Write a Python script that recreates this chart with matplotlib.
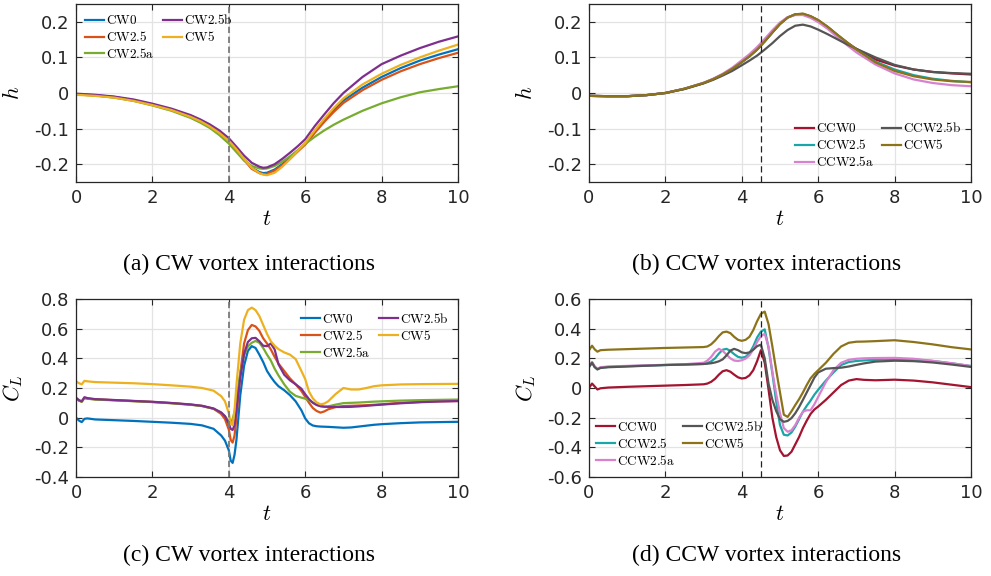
import matplotlib
matplotlib.use('Agg')
import matplotlib.pyplot as plt
from matplotlib.ticker import FuncFormatter

plt.rcParams['font.family'] = 'DejaVu Sans'
plt.rcParams['mathtext.fontset'] = 'cm'
plt.rcParams['axes.unicode_minus'] = False

# ---- plunge h(t) ----
t_h = [0, 0.5, 1, 1.5, 2, 2.5, 3, 3.25, 3.5, 3.75, 4, 4.2, 4.4, 4.6, 4.8, 4.9, 5, 5.2, 5.4, 5.6,
       5.8, 6, 6.25, 6.5, 6.75, 7, 7.5, 8, 8.5, 9, 9.5, 10]

h_cw0 = [-0.003, -0.006, -0.011, -0.02, -0.032, -0.046, -0.065, -0.077, -0.092, -0.11, -0.133, -0.158,
         -0.186, -0.21, -0.222, -0.225, -0.224, -0.215, -0.2, -0.182, -0.162, -0.142, -0.108, -0.076,
         -0.047, -0.021, 0.015, 0.045, 0.07, 0.091, 0.108, 0.123]
h_cw25 = [-0.004, -0.007, -0.012, -0.021, -0.033, -0.047, -0.066, -0.078, -0.093, -0.111, -0.134,
          -0.16, -0.188, -0.213, -0.225, -0.228, -0.227, -0.218, -0.203, -0.185, -0.165, -0.145,
          -0.112, -0.081, -0.053, -0.028, 0.008, 0.037, 0.061, 0.081, 0.098, 0.113]
h_cw25a = [-0.004, -0.007, -0.013, -0.022, -0.035, -0.05, -0.07, -0.083, -0.098, -0.118, -0.142,
           -0.166, -0.19, -0.205, -0.212, -0.213, -0.212, -0.205, -0.193, -0.178, -0.161, -0.143,
           -0.123, -0.105, -0.089, -0.075, -0.05, -0.029, -0.012, 0.002, 0.011, 0.019]
h_cw25b = [-0.002, -0.005, -0.01, -0.018, -0.03, -0.044, -0.062, -0.074, -0.088, -0.105, -0.127,
           -0.151, -0.176, -0.196, -0.207, -0.21, -0.209, -0.2, -0.185, -0.168, -0.15, -0.13, -0.093,
           -0.06, -0.028, 0.0, 0.045, 0.081, 0.105, 0.126, 0.144, 0.159]
h_cw5 = [-0.005, -0.008, -0.013, -0.022, -0.034, -0.048, -0.067, -0.079, -0.094, -0.112, -0.134,
         -0.158, -0.185, -0.21, -0.225, -0.229, -0.231, -0.224, -0.207, -0.186, -0.163, -0.14, -0.105,
         -0.072, -0.042, -0.015, 0.024, 0.054, 0.079, 0.1, 0.119, 0.136]

h_ccw0 = [-0.008, -0.009, -0.009, -0.006, 0.0, 0.012, 0.028, 0.039, 0.052, 0.068, 0.087, 0.103,
          0.122, 0.145, 0.17, 0.182, 0.194, 0.212, 0.221, 0.222, 0.215, 0.204, 0.185, 0.163, 0.142,
          0.124, 0.094, 0.077, 0.066, 0.059, 0.055, 0.052]
h_ccw25 = [-0.008, -0.009, -0.009, -0.006, 0.0, 0.012, 0.028, 0.039, 0.052, 0.068, 0.087, 0.103,
           0.122, 0.145, 0.17, 0.182, 0.194, 0.212, 0.221, 0.222, 0.215, 0.204, 0.185, 0.163, 0.142,
           0.122, 0.088, 0.066, 0.05, 0.04, 0.034, 0.03]
h_ccw25a = [-0.008, -0.009, -0.009, -0.006, 0.0, 0.012, 0.029, 0.04, 0.054, 0.071, 0.092, 0.109,
            0.129, 0.152, 0.176, 0.187, 0.198, 0.213, 0.219, 0.219, 0.211, 0.199, 0.18, 0.157, 0.135,
            0.114, 0.08, 0.055, 0.038, 0.028, 0.022, 0.019]
h_ccw25b = [-0.008, -0.009, -0.009, -0.006, 0.0, 0.011, 0.027, 0.037, 0.049, 0.062, 0.078, 0.091,
            0.105, 0.122, 0.14, 0.15, 0.16, 0.177, 0.189, 0.192, 0.187, 0.178, 0.165, 0.151, 0.137,
            0.124, 0.1, 0.079, 0.066, 0.059, 0.056, 0.054]
h_ccw5 = [-0.008, -0.009, -0.009, -0.006, 0.0, 0.012, 0.028, 0.039, 0.052, 0.068, 0.087, 0.103,
          0.122, 0.145, 0.17, 0.182, 0.194, 0.212, 0.221, 0.223, 0.216, 0.205, 0.186, 0.164, 0.143,
          0.122, 0.086, 0.062, 0.047, 0.038, 0.033, 0.031]

# ---- lift coefficient, CW cases ----
t_cw = [0, 0.08, 0.15, 0.22, 0.3, 0.5, 1, 1.5, 2, 2.5, 3, 3.3, 3.6, 3.8, 3.9, 4.0, 4.05, 4.1, 4.15,
        4.2, 4.3, 4.4, 4.5, 4.6, 4.7, 4.8, 4.9, 5.0, 5.1, 5.2, 5.3, 5.45, 5.6, 5.75, 5.9, 6.0, 6.1,
        6.2, 6.3, 6.4, 6.5, 6.6, 6.8, 7.0, 7.2, 7.4, 7.6, 7.8, 8, 8.5, 9, 9.5, 10]

cl_cw0 = [0.0, -0.02, -0.03, -0.008, -0.005, -0.012, -0.017, -0.022, -0.028, -0.034, -0.042, -0.052,
          -0.075, -0.12, -0.155, -0.22, -0.29, -0.305, -0.25, -0.15, 0.15, 0.35, 0.45, 0.482, 0.47,
          0.425, 0.375, 0.315, 0.275, 0.24, 0.212, 0.185, 0.152, 0.11, 0.05, -0.005, -0.038, -0.053,
          -0.058, -0.06, -0.061, -0.062, -0.065, -0.068, -0.066, -0.06, -0.054, -0.048, -0.044,
          -0.037, -0.032, -0.03, -0.028]
cl_cw25 = [0.13, 0.115, 0.108, 0.132, 0.128, 0.124, 0.118, 0.112, 0.106, 0.098, 0.088, 0.079, 0.06,
           0.025, -0.01, -0.08, -0.15, -0.168, -0.12, 0.0, 0.3, 0.5, 0.59, 0.625, 0.615, 0.585, 0.535,
           0.5, 0.46, 0.41, 0.365, 0.315, 0.265, 0.225, 0.18, 0.14, 0.1, 0.065, 0.045, 0.034, 0.042,
           0.056, 0.072, 0.078, 0.08, 0.082, 0.084, 0.087, 0.09, 0.1, 0.106, 0.11, 0.112]
cl_cw25a = [0.13, 0.114, 0.107, 0.133, 0.128, 0.122, 0.117, 0.111, 0.105, 0.097, 0.087, 0.078, 0.06,
            0.035, 0.01, -0.025, -0.03, -0.01, 0.04, 0.12, 0.3, 0.42, 0.48, 0.505, 0.517, 0.505, 0.47,
            0.425, 0.385, 0.33, 0.285, 0.225, 0.175, 0.147, 0.135, 0.128, 0.118, 0.103, 0.088, 0.078,
            0.074, 0.076, 0.088, 0.098, 0.1, 0.102, 0.105, 0.108, 0.11, 0.115, 0.118, 0.12, 0.122]
cl_cw25b = [0.135, 0.118, 0.11, 0.138, 0.132, 0.125, 0.119, 0.113, 0.107, 0.099, 0.089, 0.08, 0.062,
            0.035, 0.01, -0.04, -0.075, -0.083, -0.05, 0.05, 0.27, 0.43, 0.51, 0.535, 0.538, 0.515,
            0.485, 0.482, 0.5, 0.46, 0.36, 0.29, 0.252, 0.225, 0.195, 0.158, 0.125, 0.1, 0.085, 0.077,
            0.074, 0.073, 0.072, 0.072, 0.073, 0.076, 0.08, 0.084, 0.088, 0.097, 0.104, 0.109, 0.112]
cl_cw5 = [0.245, 0.232, 0.225, 0.248, 0.245, 0.24, 0.236, 0.232, 0.226, 0.218, 0.209, 0.2, 0.182,
          0.145, 0.11, 0.03, -0.04, -0.05, 0.05, 0.22, 0.5, 0.66, 0.725, 0.742, 0.725, 0.685, 0.625,
          0.565, 0.515, 0.485, 0.462, 0.44, 0.425, 0.395, 0.315, 0.26, 0.175, 0.13, 0.103, 0.09,
          0.095, 0.11, 0.16, 0.2, 0.19, 0.19, 0.2, 0.212, 0.218, 0.224, 0.226, 0.227, 0.228]

# ---- lift coefficient, CCW cases ----
t_ccw = [0, 0.08, 0.15, 0.22, 0.3, 0.5, 1, 1.5, 2, 2.5, 3, 3.1, 3.2, 3.3, 3.4, 3.5, 3.6, 3.7, 3.8,
         3.9, 4.0, 4.1, 4.2, 4.3, 4.4, 4.5, 4.6, 4.7, 4.8, 4.9, 5.0, 5.1, 5.2, 5.3, 5.4, 5.5, 5.6,
         5.7, 5.8, 5.9, 6.0, 6.2, 6.4, 6.6, 6.8, 7.0, 7.2, 7.5, 8, 8.5, 9, 9.5, 10]

cl_ccw0 = [0.0, 0.03, 0.01, -0.01, -0.002, 0.003, 0.008, 0.012, 0.016, 0.02, 0.025, 0.03, 0.042,
           0.062, 0.09, 0.113, 0.12, 0.11, 0.09, 0.072, 0.064, 0.068, 0.085, 0.12, 0.18, 0.255, 0.17,
           -0.01, -0.2, -0.33, -0.42, -0.458, -0.455, -0.43, -0.38, -0.33, -0.27, -0.22, -0.175,
           -0.145, -0.125, -0.08, -0.03, 0.02, 0.05, 0.06, 0.055, 0.052, 0.056, 0.05, 0.038, 0.022,
           0.006]
cl_ccw25 = [0.145, 0.172, 0.142, 0.127, 0.137, 0.142, 0.147, 0.151, 0.155, 0.158, 0.162, 0.168, 0.18,
            0.2, 0.232, 0.258, 0.264, 0.25, 0.228, 0.21, 0.204, 0.21, 0.235, 0.28, 0.34, 0.38, 0.395,
            0.27, 0.1, -0.09, -0.25, -0.315, -0.32, -0.3, -0.26, -0.21, -0.16, -0.12, -0.085, -0.045,
            -0.012, 0.05, 0.105, 0.155, 0.175, 0.182, 0.186, 0.19, 0.196, 0.192, 0.182, 0.166, 0.148]
cl_ccw25a = [0.15, 0.175, 0.145, 0.13, 0.14, 0.145, 0.149, 0.153, 0.156, 0.16, 0.17, 0.185, 0.21,
             0.245, 0.264, 0.25, 0.225, 0.2, 0.185, 0.182, 0.187, 0.198, 0.22, 0.26, 0.31, 0.35, 0.365,
             0.28, 0.11, -0.04, -0.17, -0.27, -0.295, -0.285, -0.25, -0.2, -0.16, -0.15, -0.15, -0.11,
             -0.06, 0.04, 0.12, 0.17, 0.19, 0.197, 0.2, 0.202, 0.203, 0.197, 0.183, 0.167, 0.148]
cl_ccw25b = [0.14, 0.17, 0.14, 0.125, 0.135, 0.14, 0.145, 0.15, 0.155, 0.158, 0.162, 0.164, 0.167,
             0.172, 0.18, 0.193, 0.22, 0.252, 0.264, 0.255, 0.24, 0.235, 0.24, 0.258, 0.282, 0.292, 0.2,
             0.03, -0.08, -0.155, -0.21, -0.228, -0.222, -0.203, -0.17, -0.128, -0.08, -0.03, 0.02,
             0.07, 0.105, 0.13, 0.134, 0.137, 0.145, 0.156, 0.166, 0.178, 0.184, 0.181, 0.172, 0.158,
             0.142]
cl_ccw5 = [0.255, 0.285, 0.26, 0.245, 0.255, 0.258, 0.262, 0.266, 0.27, 0.273, 0.276, 0.28, 0.295,
           0.32, 0.35, 0.375, 0.38, 0.37, 0.345, 0.325, 0.318, 0.325, 0.345, 0.39, 0.45, 0.5, 0.515,
           0.43, 0.28, 0.12, -0.03, -0.18, -0.195, -0.157, -0.115, -0.075, -0.03, 0.02, 0.065, 0.095,
           0.12, 0.17, 0.23, 0.28, 0.305, 0.312, 0.313, 0.316, 0.322, 0.31, 0.294, 0.275, 0.26]

cw_labels = ['CW0', 'CW2.5', 'CW2.5a', 'CW2.5b', 'CW5']
ccw_labels = ['CCW0', 'CCW2.5', 'CCW2.5a', 'CCW2.5b', 'CCW5']
cw_colors = ['#0072BD', '#D95319', '#77AC30', '#7E2F8E', '#EDB120']
ccw_colors = ['#A2142F', '#1AA6A6', '#D882CF', '#555555', '#8C731A']

captions = ['(a) CW vortex interactions', '(b) CCW vortex interactions',
            '(c) CW vortex interactions', '(d) CCW vortex interactions']

fig = plt.figure(figsize=(9.91, 5.76), dpi=100)
W, H = 991, 576


def make_axes(left, top, right, bottom):
    return fig.add_axes([left / W, 1 - bottom / H, (right - left) / W, (bottom - top) / H])


ax_a = make_axes(76, 4, 458, 182)
ax_b = make_axes(589, 4, 971, 182)
ax_c = make_axes(76, 299, 458, 477)
ax_d = make_axes(589, 299, 971, 477)

fmt = FuncFormatter(lambda v, p: '%g' % round(v, 3))


def style(ax, ylim, yticks, ylabel):
    ax.set_xlim(0, 10)
    ax.set_ylim(*ylim)
    ax.set_xticks([0, 2, 4, 6, 8, 10])
    ax.set_yticks(yticks)
    ax.yaxis.set_major_formatter(fmt)
    ax.xaxis.set_major_formatter(fmt)
    ax.grid(True, color='#e3e3e3', lw=0.9)
    ax.set_axisbelow(True)
    ax.tick_params(direction='in', top=True, right=True, length=4, width=0.8,
                   labelsize=13, colors='#262626', pad=5)
    for s in ax.spines.values():
        s.set_color('#262626')
        s.set_linewidth(0.9)
    ax.set_xlabel(r'$t$', fontsize=16)
    ax.set_ylabel(ylabel, fontsize=16)
    ax.xaxis.set_label_coords(0.5, -0.21)
    ax.xaxis.label.set_va('center')
    ax.yaxis.set_label_coords(-0.165, 0.5)
    ax.yaxis.label.set_va('center')


leg_kw = dict(frameon=False, ncol=2, fontsize=9.5, handlelength=1.45, handletextpad=0.15,
              columnspacing=0.6, labelspacing=0.22, borderpad=0.2)

# (a)
for y, lab, c in zip([h_cw0, h_cw25, h_cw25a, h_cw25b, h_cw5], cw_labels, cw_colors):
    ax_a.plot(t_h, y, color=c, lw=1.6, label=r'$\mathrm{%s}$' % lab)
ax_a.axvline(4, color='#7a7a7a', lw=1.3, ls=(0, (3.5, 2)))
style(ax_a, (-0.25, 0.25), [-0.2, -0.1, 0, 0.1, 0.2], r'$h$')
ax_a.legend(loc='upper left', bbox_to_anchor=(0.0, 1.0), **leg_kw)

# (b)
for y, lab, c in zip([h_ccw0, h_ccw25, h_ccw25a, h_ccw25b, h_ccw5], ccw_labels, ccw_colors):
    ax_b.plot(t_h, y, color=c, lw=1.6, label=r'$\mathrm{%s}$' % lab)
ax_b.axvline(4.5, color='#222222', lw=0.9, ls=(0, (5, 3)))
style(ax_b, (-0.25, 0.25), [-0.2, -0.1, 0, 0.1, 0.2], r'$h$')
ax_b.legend(loc='lower right', bbox_to_anchor=(1.0, 0.02), **leg_kw)

# (c)
for y, lab, c in zip([cl_cw0, cl_cw25, cl_cw25a, cl_cw25b, cl_cw5], cw_labels, cw_colors):
    ax_c.plot(t_cw, y, color=c, lw=1.6, label=r'$\mathrm{%s}$' % lab)
ax_c.axvline(4, color='#7a7a7a', lw=1.3, ls=(0, (3.5, 2)))
style(ax_c, (-0.4, 0.8), [-0.4, -0.2, 0, 0.2, 0.4, 0.6, 0.8], r'$C_L$')
ax_c.legend(loc='upper right', bbox_to_anchor=(1.0, 0.98), **leg_kw)

# (d)
for y, lab, c in zip([cl_ccw0, cl_ccw25, cl_ccw25a, cl_ccw25b, cl_ccw5], ccw_labels, ccw_colors):
    ax_d.plot(t_ccw, y, color=c, lw=1.6, label=r'$\mathrm{%s}$' % lab)
ax_d.axvline(4.5, color='#222222', lw=0.9, ls=(0, (5, 3)))
style(ax_d, (-0.6, 0.6), [-0.6, -0.4, -0.2, 0, 0.2, 0.4, 0.6], r'$C_L$')
ax_d.legend(loc='lower left', bbox_to_anchor=(-0.005, 0.0), **leg_kw)

# subfigure captions
for (x, y), cap in zip([(249, 264), (767, 264), (249, 555), (767, 555)], captions):
    fig.text(x / W, 1 - y / H, cap, ha='center', va='center', fontsize=17,
             family='Liberation Serif')

fig.savefig('out.png', dpi=100)
